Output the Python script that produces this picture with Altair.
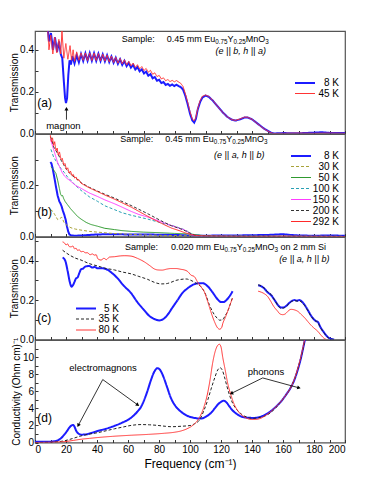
import altair as alt
import pandas as pd

FONT = "Liberation Sans"
W, H = 310, 102.5
BLUE, RED = "#1c1cff", "#ff3434"

# ---------------- panel (a): transmission, e||b ----------------
A_SERIES = ["8 K", "45 K"]
A_8K = [(8.0,0.52),(9.0,0.44),(10.3,0.48),(11.6,0.40),(12.9,0.46),(14.2,0.39),(15.5,0.44),(16.6,0.38),(17.6,0.36),(18.6,0.25),
        (19.4,0.17),(20.0,0.145),(20.7,0.17),(21.5,0.28),(22.3,0.35),(23.2,0.33),(24.1,0.37),(25.5,0.335),(26.9,0.375),(28.3,0.34),
        (29.7,0.38),(31.1,0.347),(32.5,0.383),(33.9,0.348),(35.3,0.384),(36.7,0.348),(38.1,0.383),(39.5,0.348),(40.9,0.381),(42.3,0.347),
        (43.7,0.378),(45.1,0.345),(46.5,0.374),(47.9,0.342),(49.3,0.368),(50.7,0.338),(52.1,0.362),(53.5,0.333),(54.9,0.355),(56.3,0.328),
        (57.7,0.347),(59.1,0.322),(60.5,0.338),(61.9,0.315),(63.3,0.328),(64.7,0.306),(66.1,0.318),(67.5,0.297),(68.9,0.307),(70.3,0.287),
        (71.7,0.296),(73.1,0.276),(74.5,0.284),(75.9,0.264),(77.3,0.27),(78.7,0.252),(80.1,0.257),(81.5,0.241),(82.9,0.246),(84.3,0.232),
        (85.7,0.237),(87.1,0.228),(88.5,0.234),(89.9,0.227),(91.3,0.233),(92.7,0.227),(94.0,0.222),(95.5,0.21),(97.0,0.18),(98.5,0.14),
        (100.0,0.095),(101.5,0.062),(102.7,0.052),(103.8,0.07),(105.0,0.115),(106.5,0.15),(108.0,0.172),(110.0,0.181),(112.0,0.176),(115.0,0.155),
        (118.0,0.128),(121.0,0.102),(124.0,0.08),(127.0,0.066),(129.5,0.062),(132.0,0.067),(135.0,0.076),(137.0,0.077),(140.0,0.068),(144.0,0.045),
        (148.0,0.022),(152.0,0.005),(154.0,0.0),(160.0,0.002),(170.0,0.001),(180.0,0.004),(185.0,0.006),(190.0,0.003),(200.0,0.002)]
A_45K = [(8.0,0.52),(9.0,0.40),(10.2,0.47),(11.5,0.38),(12.8,0.46),(14.1,0.385),(15.4,0.45),(16.6,0.38),(17.4,0.49),(18.6,0.36),
         (19.9,0.43),(21.2,0.355),(22.6,0.42),(23.6,0.35),(24.6,0.40),(25.5,0.345),(26.9,0.39),(28.3,0.35),(29.7,0.385),(31.1,0.35),
         (32.5,0.385),(33.9,0.349),(35.3,0.385),(36.7,0.349),(38.1,0.384),(39.5,0.349),(40.9,0.382),(42.3,0.348),(43.7,0.379),(45.1,0.346),
         (46.5,0.375),(47.9,0.343),(49.3,0.37),(50.7,0.34),(52.1,0.364),(53.5,0.336),(54.9,0.358),(56.3,0.333),(57.7,0.352),(59.1,0.328),
         (60.5,0.345),(61.9,0.323),(63.3,0.337),(64.7,0.316),(66.1,0.329),(67.5,0.309),(68.9,0.32),(70.3,0.301),(71.7,0.311),(73.1,0.293),
         (74.5,0.302),(75.9,0.283),(77.3,0.29),(78.7,0.272),(80.1,0.278),(81.5,0.261),(82.9,0.266),(84.3,0.252),(85.7,0.258),(87.1,0.248),
         (88.5,0.254),(89.9,0.247),(91.3,0.253),(92.7,0.246),(94.0,0.24),(95.5,0.225),(97.0,0.19),(98.5,0.15),(100.0,0.105),(101.5,0.07),
         (102.6,0.06),(103.7,0.075),(105.0,0.12),(106.5,0.157),(108.0,0.178),(110.0,0.184),(112.0,0.178),(115.0,0.156),(118.0,0.128),(121.0,0.101),
         (124.0,0.08),(127.0,0.066),(129.5,0.063),(132.0,0.069),(135.0,0.078),(137.0,0.078),(140.0,0.068),(144.0,0.044),(148.0,0.021),(152.0,0.004),
         (154.0,0.0),(160.0,0.001),(170.0,0.002),(180.0,0.001),(190.0,0.002),(200.0,0.001)]

# ---------------- panel (b): transmission, e||a ----------------
B_SERIES = ["8 K", "30 K", "50 K", "100 K", "150 K", "200 K", "292 K"]
B_8K = [(9.9,0.29),(10.6,0.285),(11.4,0.266),(12.5,0.23),(13.5,0.195),(14.6,0.16),(15.7,0.137),(16.5,0.128),(17.2,0.117),(18.0,0.1),
        (18.9,0.085),(19.8,0.065),(20.6,0.04),(21.4,0.02),(22.2,0.008),(23.5,0.004),(26.0,0.003),(30.0,0.004),(35.0,0.006),(40.0,0.008),
        (50.0,0.009),(60.0,0.008),(70.0,0.008),(80.0,0.007),(90.0,0.006),(100.0,0.004),(110.0,0.003),(120.0,0.004),(130.0,0.004),(140.0,0.005),
        (150.0,0.006),(160.0,0.009),(165.0,0.006),(170.0,0.004),(180.0,0.003),(190.0,0.004),(200.0,0.003)]
B_30K = [(10.0,0.105),(11.5,0.098),(12.8,0.085),(14.6,0.066),(16.0,0.07),(17.2,0.075),(18.0,0.065),(18.9,0.053),(21.0,0.042),(23.2,0.034),
         (26.0,0.029),(29.7,0.025),(35.0,0.02),(40.4,0.017),(50.0,0.012),(60.0,0.009),(70.0,0.006),(85.0,0.004),(100.0,0.003),(130.0,0.002),(200.0,0.001)]
B_50K = [(10.3,0.272),(12.0,0.26),(13.5,0.246),(14.6,0.22),(15.7,0.188),(16.5,0.165),(17.2,0.158),(17.8,0.16),(18.5,0.148),(19.5,0.136),
         (21.0,0.124),(23.0,0.108),(25.4,0.092),(27.5,0.078),(29.7,0.068),(33.0,0.055),(36.0,0.047),(40.4,0.04),(45.0,0.032),(51.2,0.027),
         (56.0,0.023),(62.0,0.02),(70.0,0.017),(80.0,0.015),(90.0,0.012),(100.0,0.01),(105.0,0.006),(110.0,0.003),(120.0,0.001),(200.0,0.0)]
B_100K = [(10.3,0.34),(12.0,0.31),(13.5,0.295),(14.6,0.285),(16.8,0.265),(18.9,0.25),(21.0,0.232),(23.0,0.22),(26.0,0.2),(29.7,0.18),
          (35.0,0.155),(40.4,0.137),(45.0,0.12),(51.2,0.105),(56.0,0.093),(62.0,0.083),(67.0,0.076),(72.7,0.068),(78.0,0.059),(83.4,0.05),
          (90.0,0.04),(95.0,0.03),(98.0,0.022),(100.0,0.013),(102.0,0.006),(105.0,0.002),(200.0,0.0)]
B_150K = [(10.0,0.38),(11.5,0.35),(13.0,0.32),(14.5,0.29),(16.0,0.27),(17.5,0.25),(19.0,0.236),(21.0,0.225),(23.2,0.215),(26.0,0.2),
          (29.7,0.188),(35.0,0.17),(40.4,0.156),(45.0,0.143),(51.2,0.128),(56.0,0.115),(62.0,0.098),(67.0,0.086),(72.7,0.076),(78.0,0.065),
          (83.4,0.053),(88.0,0.043),(94.0,0.03),(96.0,0.027),(98.0,0.02),(100.0,0.01),(102.0,0.004),(106.0,0.001),(200.0,0.0)]
B_200K = [(9.9,0.39),(11.0,0.375),(12.0,0.35),(13.5,0.335),(15.0,0.32),(16.8,0.298),(18.5,0.28),(20.3,0.262),(22.0,0.249),(24.0,0.238),
          (26.0,0.229),(28.3,0.218),(29.7,0.21),(35.0,0.192),(40.4,0.177),(45.0,0.165),(51.2,0.15),(56.0,0.137),(62.0,0.121),(67.0,0.106),
          (72.7,0.089),(78.0,0.072),(83.4,0.055),(88.0,0.042),(94.0,0.03),(97.0,0.022),(100.6,0.012),(103.0,0.005),(106.0,0.002),(120.0,0.001),(200.0,0.0)]
B_292K = [(9.9,0.395),(10.6,0.37),(11.3,0.385),(12.0,0.355),(12.7,0.37),(13.5,0.335),(14.3,0.345),(15.0,0.318),(15.8,0.33),(16.8,0.3),
          (17.6,0.305),(18.5,0.28),(19.3,0.285),(20.3,0.262),(21.1,0.268),(22.0,0.248),(22.9,0.255),(23.8,0.238),(24.7,0.242),(25.6,0.228),
          (26.5,0.232),(27.4,0.22),(28.3,0.222),(29.7,0.208),(32.0,0.2),(35.0,0.19),(40.4,0.175),(45.0,0.162),(51.2,0.146),(56.0,0.132),
          (62.0,0.115),(67.0,0.098),(72.7,0.079),(78.0,0.062),(83.4,0.046),(88.0,0.033),(94.0,0.021),(97.0,0.014),(100.6,0.008),(104.0,0.004),
          (110.0,0.002),(120.0,0.001),(140.0,0.0),(160.0,0.001),(200.0,0.0)]

# ---------------- panel (c): thin film on Si (two measured windows) ----------------
C_SERIES = ["5 K", "35 K", "80 K"]
C_5K_LOW = [(17.8,0.416),(19.5,0.40),(21.0,0.35),(22.5,0.29),(23.6,0.268),(24.8,0.28),(26.5,0.31),(27.5,0.315),(28.5,0.335),(29.7,0.356),
            (31.0,0.36),(32.5,0.37),(35.0,0.373),(37.0,0.365),(38.5,0.368),(40.4,0.361),(43.0,0.362),(46.9,0.353),(50.0,0.335),(53.3,0.31),
            (57.0,0.275),(62.0,0.235),(66.0,0.19),(70.5,0.148),(74.0,0.118),(77.0,0.104),(80.2,0.097),(83.0,0.105),(85.6,0.126),(88.5,0.16),
            (92.0,0.2),(95.0,0.235),(98.5,0.26),(102.0,0.278),(105.0,0.285),(108.0,0.286),(111.4,0.27),(114.5,0.24),(117.9,0.203),(120.0,0.19),
            (121.7,0.19),(123.5,0.2),(125.4,0.218),(127.5,0.245)]
C_5K_HIGH = [(144.0,0.275),(146.0,0.27),(148.0,0.258),(150.0,0.24),(152.3,0.225),(155.0,0.195),(157.0,0.172),(158.7,0.162),(160.5,0.163),(162.0,0.17),
             (164.0,0.185),(166.0,0.197),(167.5,0.2),(169.0,0.197),(170.5,0.2),(172.5,0.19),(174.0,0.175),(175.9,0.151),(178.0,0.122),(180.2,0.1),
             (181.3,0.093),(182.4,0.09),(184.0,0.065),(186.7,0.033),(188.5,0.015),(191.0,0.003),(193.0,0.0)]
C_35K_LOW = [(17.8,0.453),(20.0,0.44),(23.0,0.425),(26.0,0.413),(29.7,0.403),(35.0,0.385),(40.4,0.373),(45.0,0.362),(51.2,0.353),(56.0,0.343),
             (62.0,0.333),(67.0,0.32),(72.7,0.305),(77.0,0.29),(81.3,0.282),(84.5,0.283),(87.7,0.29),(91.0,0.3),(94.2,0.305),(97.5,0.307),
             (100.6,0.3),(104.0,0.285),(107.0,0.268),(110.0,0.23),(112.5,0.176),(115.0,0.135),(117.9,0.105),(119.0,0.098),(121.0,0.1),(122.5,0.118),
             (124.3,0.143),(126.0,0.18),(127.5,0.215)]
C_35K_HIGH = [(144.0,0.277),(146.0,0.272),(148.0,0.26),(150.0,0.243),(152.3,0.228),(155.0,0.195),(157.0,0.17),(158.7,0.158),(160.5,0.16),(162.0,0.168),
              (164.0,0.183),(166.0,0.195),(167.5,0.197),(169.0,0.195),(170.5,0.196),(172.5,0.186),(174.0,0.172),(175.9,0.148),(178.0,0.12),(180.2,0.098),
              (182.4,0.088),(184.0,0.063),(186.7,0.031),(189.0,0.01),(191.0,0.002),(193.0,0.0)]
C_80K_LOW = [(17.8,0.495),(19.0,0.49),(20.0,0.48),(21.0,0.485),(22.0,0.472),(23.2,0.47),(24.5,0.474),(25.5,0.46),(26.5,0.463),(27.5,0.452),
             (28.6,0.455),(29.7,0.445),(31.0,0.447),(32.5,0.44),(34.0,0.44),(35.5,0.43),(37.0,0.434),(38.3,0.428),(39.5,0.43),(40.5,0.41),
             (42.6,0.403),(44.5,0.412),(46.0,0.405),(48.0,0.418),(51.2,0.42),(55.0,0.424),(58.0,0.425),(62.0,0.423),(66.0,0.412),(70.5,0.394),
             (74.0,0.375),(77.0,0.358),(79.1,0.353),(82.0,0.352),(85.0,0.357),(87.7,0.36),(91.0,0.36),(94.2,0.356),(96.3,0.353),(98.5,0.345),
             (100.6,0.327),(102.8,0.319),(105.0,0.29),(107.0,0.268),(109.2,0.243),(111.4,0.193),(113.5,0.14),(115.7,0.092),(117.9,0.058),(119.2,0.052),
             (120.5,0.062),(121.1,0.08),(122.7,0.11),(124.3,0.143),(126.0,0.18),(127.5,0.21)]
C_80K_HIGH = [(144.0,0.245),(146.0,0.24),(148.0,0.232),(150.1,0.218),(152.0,0.195),(154.0,0.168),(156.6,0.143),(158.0,0.13),(159.8,0.126),(161.5,0.13),
              (163.0,0.142),(165.2,0.153),(167.5,0.15),(169.5,0.143),(172.0,0.125),(174.0,0.11),(175.9,0.092),(178.0,0.073),(180.0,0.058),(182.4,0.042),
              (184.5,0.022),(186.7,0.005),(188.0,0.0)]

# ---------------- panel (d): conductivity ----------------
D_5K = [(0,0.08),(5,0.08),(10,0.1),(14,0.2),(16.8,0.5),(19,0.95),(20.5,1.3),(22,1.7),(23.5,1.98),(24.5,2.05),(25.5,1.85),(26.5,1.4),
        (28,1.05),(30,0.92),(32,0.93),(36,1.1),(40.4,1.35),(46,1.62),(51,1.93),(56,2.3),(62,2.9),(66,3.6),(68.5,4.2),(70.5,5.0),
        (72.5,6.0),(74.8,7.3),(77,8.3),(79,8.7),(80.5,8.55),(82.4,7.9),(85,6.6),(87.7,5.2),(90.5,4.3),(94.2,3.6),(98,3.15),(102.8,2.88),
        (107,2.8),(110,3.0),(113.5,3.46),(116,4.0),(118,4.45),(120,4.75),(121.8,4.9),(123.5,4.7),(125.4,4.23),(127.5,3.75),(129.7,3.4),
        (133,3.05),(137.2,2.9),(141.5,2.88),(146,3.05),(150.1,3.4),(154,3.95),(158.7,4.8),(162,5.6),(165.2,6.5),(167.5,7.4),(169.5,8.5),
        (171.2,9.6),(172.7,10.8),(174.2,12.1),(176,13.8),(178,15.5)]
D_35K = [(0,0.0),(10,0.03),(18.9,0.2),(24,0.45),(29.7,0.77),(35,0.98),(40.4,1.15),(46,1.38),(51.2,1.6),(57,1.82),(62,2.0),(68.4,2.1),
         (74,2.07),(79.1,2.0),(84,1.9),(87.7,1.85),(94.2,1.9),(100.6,2.0),(103,2.2),(106,2.6),(109.2,3.85),(111.5,5.0),(113.5,6.2),(116,7.6),
         (117.9,8.5),(119.5,8.75),(121,8.4),(122.2,7.7),(123.8,6.6),(125.4,5.6),(127.5,4.6),(129.7,3.95),(132,3.5),(134,3.2),(137,2.95),
         (140,2.82),(144,2.9),(150,3.25),(155,4.0),(160,5.1),(165.2,6.5),(169.5,8.55),(172.7,10.8),(174.3,12.2),(176,13.8),(178,15.8)]
D_80K = [(0,0.0),(10,0.03),(18.9,0.1),(25,0.25),(29.7,0.38),(35,0.48),(40.4,0.58),(50,0.72),(62,0.85),(73,0.95),(83.4,1.08),(90,1.2),
         (94.2,1.35),(98,1.6),(100.6,1.85),(103,2.2),(106,2.9),(108.5,3.9),(111.4,5.8),(113,7.4),(114.6,9.3),(116.3,10.7),(118,11.4),(119,11.5),
         (120,11.2),(121.1,10.0),(122.7,8.5),(124.3,6.95),(126.5,5.5),(128.6,4.43),(130.7,3.75),(132.9,3.28),(136,2.9),(139.4,2.7),(142,2.7),
         (145.8,2.85),(149,3.2),(152.3,3.65),(155.5,4.2),(158.7,4.8),(162,5.6),(165.2,6.5),(167.5,7.5),(169.5,8.65),(171.5,10.0),(173.3,11.5),
         (174.5,12.5),(176,14),(178,16)]

X_TICKS = list(range(0, 201, 10))
# header texts: (text, is_subscript)
HDR_045 = [("0.45 mm Eu", False), ("0.75", True), ("Y", False), ("0.25", True), ("MnO", False), ("3", True)]
HDR_020 = [("0.020 mm Eu", False), ("0.75", True), ("Y", False), ("0.25", True), ("MnO", False), ("3", True),
           (" on 2 mm Si", False)]

# approximate Liberation Sans advance widths (em) used to chain text pieces
CHAR_W = {".": 0.278, " ": 0.278, "m": 0.833, "E": 0.667, "u": 0.556, "Y": 0.667, "M": 0.833, "n": 0.556,
          "O": 0.778, "o": 0.556, "S": 0.667, "i": 0.222}


def text_width(s, size):
    return sum(CHAR_W.get(c, 0.556) for c in s) * size


def frame(groups):
    rows = []
    for series, seg, pts in groups:
        for f, v in pts:
            rows.append({"s": series, "g": f"{series}-{seg}", "f": f, "v": v})
    return pd.DataFrame(rows)


def xy(ydom, xaxis, yaxis, fx="f", fy="v"):
    return dict(
        x=alt.X(f"{fx}:Q", scale=alt.Scale(domain=[0, 200], nice=False), axis=xaxis),
        y=alt.Y(f"{fy}:Q", scale=alt.Scale(domain=ydom, nice=False, zero=False), axis=yaxis),
    )


def lines(df, series, colors, dashes, widths, ydom, xaxis, yaxis, legend, interp):
    return alt.Chart(df).mark_line(clip=True, interpolate=interp).encode(
        **xy(ydom, xaxis, yaxis),
        color=alt.Color("s:N", scale=alt.Scale(domain=series, range=colors), legend=legend),
        strokeDash=alt.StrokeDash("s:N", scale=alt.Scale(domain=series, range=dashes), legend=legend),
        strokeWidth=alt.StrokeWidth("s:N", scale=alt.Scale(type="ordinal", domain=series, range=widths), legend=legend),
        detail="g:N",
    )


def texts(items, ydom, xaxis, yaxis, align, size, style="normal"):
    df = pd.DataFrame(items, columns=["t", "f", "v"])
    return alt.Chart(df).mark_text(align=align, baseline="middle", fontSize=size, font=FONT,
                                   fontStyle=style, color="black").encode(
        **xy(ydom, xaxis, yaxis), text="t:N")


def rich(pieces, f, v, ydom, xaxis, yaxis, size=9, sub=6.3):
    df = pd.DataFrame({"f": [f], "v": [v]})
    layers, dx = [], 0.0
    for txt, is_sub in pieces:
        fs = sub if is_sub else size
        lead = len(txt) - len(txt.lstrip(" "))
        dx += text_width(txt[:lead], fs)
        body = txt.lstrip(" ")
        layers.append(alt.Chart(df).mark_text(align="left", baseline="middle", fontSize=fs, font=FONT,
                                              text=body, dx=dx, dy=2.6 if is_sub else 0, color="black")
                      .encode(**xy(ydom, xaxis, yaxis)))
        dx += text_width(body, fs)
    return alt.layer(*layers)


def arrows(items, ydom, xaxis, yaxis):
    df = pd.DataFrame(items, columns=["f", "v", "f2", "v2", "a"])
    rule = alt.Chart(df).mark_rule(color="black", strokeWidth=0.8).encode(
        **xy(ydom, xaxis, yaxis), x2="f2:Q", y2="v2:Q")
    head = alt.Chart(df).mark_point(shape="triangle-up", filled=True, size=16, color="black", opacity=1).encode(
        **xy(ydom, xaxis, yaxis, "f2", "v2"), angle=alt.Angle("a:Q", scale=None))
    return rule + head


def legend(lx, ly, off):
    return alt.Legend(orient="none", legendX=lx, legendY=ly, title=None, symbolType="M-2,0H2",
                      symbolSize=100, labelAlign="right", labelOffset=off, labelFontSize=10,
                      labelFont=FONT, rowPadding=-1.5, padding=0, labelColor="black")


MAJOR20 = "datum.value % 20 == 0 ? datum.label : ''"
x_hidden = alt.Axis(values=X_TICKS, labels=False, title=None)
x_full = alt.Axis(values=X_TICKS, format="d", labelExpr=MAJOR20, title="Frequency (cm\u207b\u00b9)",
                  titleFontSize=12, titlePadding=4)
EVEN_TENTHS = "round(datum.value * 10) % 2 == 0 ? datum.label : ''"
SOLID, DASH = [1, 0], [3, 2]

# ---- (a)
ya = [0, 0.49]
ax_a = alt.Axis(values=[0, 0.1, 0.2, 0.3, 0.4], format=".1f", labelExpr=EVEN_TENTHS, title="Transmission")
df_a = frame([("8 K", 0, A_8K), ("45 K", 0, A_45K)])
panel_a = alt.layer(
    lines(df_a, A_SERIES, [BLUE, RED], [SOLID, SOLID], [2, 1], ya, x_hidden, ax_a, legend(264, 46, 28), "linear"),
    texts([("Sample:", 56, 0.452)], ya, x_hidden, ax_a, "left", 9),
    rich(HDR_045, 85, 0.452, ya, x_hidden, ax_a),
    texts([("(a)", 1.5, 0.145)], ya, x_hidden, ax_a, "left", 12),
    texts([("(e || b, h || a)", 149, 0.393)], ya, x_hidden, ax_a, "right", 9, "italic"),
    texts([("magnon", 18.3, 0.036)], ya, x_hidden, ax_a, "center", 9.5),
    arrows([(20.3, 0.066, 20.3, 0.118, 0)], ya, x_hidden, ax_a),
).properties(width=W, height=H)

# ---- (b)
yb = [0, 0.4]
ax_b = alt.Axis(values=[0, 0.1, 0.2, 0.3], format=".1f", labelExpr=EVEN_TENTHS, title="Transmission")
df_b = frame([("8 K", 0, B_8K), ("30 K", 0, B_30K), ("50 K", 0, B_50K), ("100 K", 0, B_100K),
              ("150 K", 0, B_150K), ("200 K", 0, B_200K), ("292 K", 0, B_292K)])
panel_b = alt.layer(
    lines(df_b, B_SERIES, [BLUE, "#a8a23a", "#2f9a2f", "#2aa0b4", "#ff3cff", "#333333", "#ff2a2a"],
          [SOLID, DASH, SOLID, DASH, SOLID, DASH, SOLID], [2, 1, 1, 1, 1, 1, 1], yb, x_hidden, ax_b,
          legend(260, 16, 32), "linear"),
    texts([("Sample:", 55, 0.379)], yb, x_hidden, ax_b, "left", 9),
    rich(HDR_045, 84.1, 0.379, yb, x_hidden, ax_b),
    texts([("(b)", 1.5, 0.094)], yb, x_hidden, ax_b, "left", 12),
    texts([("(e || a, h || b)", 148, 0.318)], yb, x_hidden, ax_b, "right", 9, "italic"),
).properties(width=W, height=H)

# ---- (c)
yc = [0, 0.52]
ax_c = alt.Axis(values=[0, 0.1, 0.2, 0.3, 0.4, 0.5], format=".1f", labelExpr=EVEN_TENTHS, title="Transmission")
df_c = frame([("5 K", 0, C_5K_LOW), ("5 K", 1, C_5K_HIGH), ("35 K", 0, C_35K_LOW), ("35 K", 1, C_35K_HIGH),
              ("80 K", 0, C_80K_LOW), ("80 K", 1, C_80K_HIGH)])
panel_c = alt.layer(
    lines(df_c, C_SERIES, [BLUE, "#222222", RED], [SOLID, DASH, SOLID], [2, 1, 1], yc, x_hidden, ax_c,
          legend(45, 65.5, 27), "monotone"),
    texts([("Sample:", 58, 0.468)], yc, x_hidden, ax_c, "left", 9),
    rich(HDR_020, 87.7, 0.468, yc, x_hidden, ax_c),
    texts([("(c)", 1.5, 0.109)], yc, x_hidden, ax_c, "left", 12),
    texts([("(e || a, h || b)", 190, 0.408)], yc, x_hidden, ax_c, "right", 9, "italic"),
).properties(width=W, height=H)

# ---- (d)
yd = [0, 12]
ax_d = alt.Axis(values=list(range(0, 12)), format="d", labelExpr="datum.value % 2 == 0 ? datum.label : ''",
                title="Conductivity (Ohm cm)\u207b\u00b9")
df_d = frame([("5 K", 0, D_5K), ("35 K", 0, D_35K), ("80 K", 0, D_80K)])
panel_d = alt.layer(
    lines(df_d, C_SERIES, [BLUE, "#222222", RED], [SOLID, DASH, SOLID], [2, 1, 1], yd, x_full, ax_d, None, "monotone"),
    texts([("(d)", 1.5, 2.84)], yd, x_full, ax_d, "left", 12),
    texts([("electromagnons", 43.9, 8.7), ("phonons", 149, 8.2)], yd, x_full, ax_d, "center", 9.5),
    arrows([(43.7, 7.37, 27.9, 2.0, 208), (43.7, 7.37, 66.3, 4.4, 126),
            (146.9, 7.56, 126.7, 5.75, 244), (146.9, 7.56, 170.3, 6.4, 105)], yd, x_full, ax_d),
).properties(width=W, height=H)

chart = alt.vconcat(panel_a, panel_b, panel_c, panel_d, spacing=0, bounds="flush").resolve_scale(
    y="independent", color="independent", strokeDash="independent", strokeWidth="independent"
).properties(
    padding={"left": 0, "top": 22, "right": 5, "bottom": 0}
).configure(font=FONT).configure_view(
    stroke="#555555", strokeWidth=1.2
).configure_axis(
    labelFont=FONT, titleFont=FONT, labelFontSize=10, titleFontSize=10, titleFontWeight="normal",
    tickSize=3, tickColor="#333333", domain=False, offset=-3, grid=False, labelColor="black",
    titleColor="black", labelPadding=1.5, titlePadding=0.5
)

chart.save("out.html", embed_options={"renderer": "svg", "actions": False})
